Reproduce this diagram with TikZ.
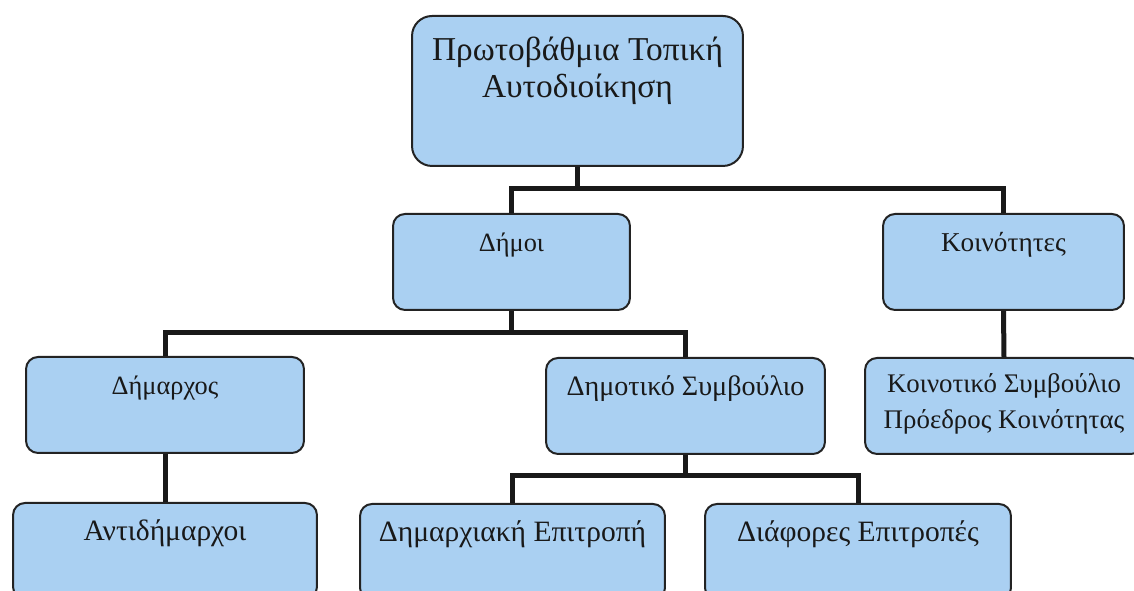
\documentclass[tikz,border=0pt]{standalone}
\usepackage{fontspec}
\setmainfont{Liberation Serif}

\definecolor{boxblue}{RGB}{170,208,242}
\definecolor{boxline}{RGB}{35,35,35}

\tikzset{
  box/.style={draw=boxline, line width=0.04cm, fill=boxblue, rounded corners=0.24cm,
    anchor=north, inner xsep=0pt, inner ysep=0pt, text=black!90,
    text height=0.76cm, text depth=1.16cm, font=\fontsize{15.5}{18}\selectfont},
  lowbox/.style={box, font=\fontsize{16.8}{19}\selectfont},
  link/.style={line width=0.1cm, line join=miter, draw=black!90}
}

\begin{document}
\begin{tikzpicture}[x=0.02cm, y=-0.02cm]
\useasboundingbox (0,0) rectangle (1134,591);
\clip (0,0) rectangle (1134,591);
\fill[white] (0,0) rectangle (1134,591);
\draw (577.5,15) node[box, minimum width=6.62cm, rounded corners=0.4cm, text height=1.64cm, text depth=1.36cm,
  align=center, font=\fontsize{19}{21.6}\selectfont] (PTA) {Πρωτοβάθμια Τοπική\\Αυτοδιοίκηση};
	\draw (511.5,213) node[box, minimum width=4.74cm, font=\fontsize{15}{18}\selectfont] (Dimoi) {Δήμοι};
		\draw (165,356) node[box, minimum width=5.56cm, font=\fontsize{15}{18}\selectfont] (Dimarxos) {Δήμαρχος};
			\draw (165,502) node[lowbox, minimum width=6.08cm] (Antidim) {Αντιδήμαρχοι};
		\draw (685.5,357) node[box, minimum width=5.58cm, font=\fontsize{16}{19}\selectfont] (DimSymv) {Δημοτικό Συμβούλιο};
			\draw (512.5,503) node[lowbox, minimum width=6.1cm] (DimEpit) {Δημαρχιακή Επιτροπή};
			\draw (858,503) node[lowbox, minimum width=6.12cm] (Diaf) {Διάφορες Επιτροπές};
	\draw (1003.5,213) node[box, minimum width=4.82cm] (Koin) {Κοινότητες};
		\draw (1004,357) node[box, minimum width=5.56cm, text height=1.42cm, text depth=0.5cm,
		  align=center, font=\fontsize{15.3}{20.5}\selectfont] (KoinSymv) {Κοινοτικό Συμβούλιο\\Πρόεδρος Κοινότητας};

\coordinate (J1) at (577.5,189);
\coordinate (J2) at (511.5,333);
\coordinate (J3) at (685.5,476);

\draw[link] (PTA.south) -- (J1);
\draw[link] (Dimoi.north) |- (J1) -| (Koin.north);
\draw[link] (Dimoi.south) -- (J2);
\draw[link] (Dimarxos.north) |- (J2) -| (DimSymv.north);
\draw[link] (Dimarxos.south) -- (Antidim.north);
\draw[link] (DimSymv.south) -- (J3);
\draw[link] (DimEpit.north) |- (J3) -| (Diaf.north);
\draw[link] (Koin.south) -- (KoinSymv.north);
\end{tikzpicture}
\end{document}
